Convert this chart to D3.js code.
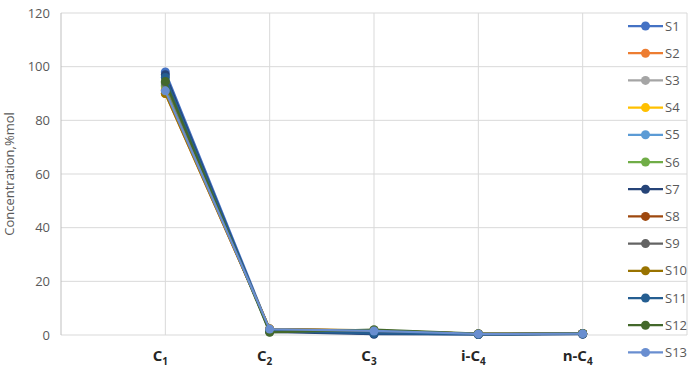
<!DOCTYPE html>
<html lang="en">
<head>
<meta charset="UTF-8">
<title>Concentration chart</title>
<script src="https://d3js.org/d3.v7.min.js"></script>
<style>
  body { margin: 0; background: #fff; }
  text { font-family: "Open Sans", "Noto Sans", sans-serif; }
</style>
</head>
<body>
<svg id="chart" width="692" height="376"></svg>
<script>
// components on the x axis (base + subscript)
const categories = [
  { base: "C", sub: "1" },
  { base: "C", sub: "2" },
  { base: "C", sub: "3" },
  { base: "i-C", sub: "4" },
  { base: "n-C", sub: "4" }
];
const seriesNames = ["S1","S2","S3","S4","S5","S6","S7","S8","S9","S10","S11","S12","S13"];
const seriesColors = ["#4472C4","#ED7D31","#A5A5A5","#FFC000","#5B9BD5","#70AD47",
                      "#264478","#9E480E","#636363","#997300","#255E91","#43682B","#698ED0"];
// concentration, %mol  [C1, C2, C3, i-C4, n-C4]
const values = [
  [98.0, 1.9, 0.5, 0.3, 0.4],
  [90.0, 2.2, 1.6, 0.4, 0.6],
  [92.5, 2.0, 1.5, 0.4, 0.5],
  [91.5, 2.1, 1.5, 0.4, 0.5],
  [93.5, 1.9, 1.4, 0.3, 0.5],
  [93.0, 1.8, 1.5, 0.3, 0.5],
  [97.0, 1.2, 0.3, 0.2, 0.3],
  [91.0, 2.1, 1.6, 0.4, 0.6],
  [94.0, 1.8, 1.3, 0.3, 0.5],
  [90.0, 2.3, 1.7, 0.4, 0.6],
  [96.0, 1.4, 0.6, 0.2, 0.4],
  [94.5, 1.0, 2.0, 0.5, 0.6],
  [91.0, 2.2, 1.5, 0.4, 0.5]
];
const yTicks = [0, 20, 40, 60, 80, 100, 120];

const svg = d3.select("#chart");
const plot = { left: 61, right: 687, top: 13, bottom: 335 };

const x = d3.scaleLinear().domain([0, categories.length + 1]).range([plot.left, plot.right]);
const y = d3.scaleLinear().domain([0, 120]).range([plot.bottom, plot.top]);

// horizontal gridlines
svg.append("g").selectAll("line").data(yTicks).join("line")
  .attr("x1", plot.left).attr("x2", plot.right)
  .attr("y1", d => y(d)).attr("y2", d => y(d))
  .attr("stroke", "#D9D9D9").attr("stroke-width", 1);

// vertical gridlines at categories and right edge
const vLines = d3.range(1, categories.length + 2);
svg.append("g").selectAll("line").data(vLines).join("line")
  .attr("x1", d => x(d)).attr("x2", d => x(d))
  .attr("y1", plot.top).attr("y2", plot.bottom)
  .attr("stroke", "#D9D9D9").attr("stroke-width", 1);

// y axis line
svg.append("line")
  .attr("x1", plot.left).attr("x2", plot.left)
  .attr("y1", plot.top).attr("y2", plot.bottom)
  .attr("stroke", "#BFBFBF");

// y tick labels
svg.append("g").selectAll("text").data(yTicks).join("text")
  .attr("x", plot.left - 11).attr("y", d => y(d)).attr("dy", "0.35em")
  .attr("text-anchor", "end").attr("font-size", 13).attr("fill", "#595959")
  .text(d => d);

// y axis title
svg.append("text")
  .attr("transform", `translate(14,${(plot.top + plot.bottom) / 2}) rotate(-90)`)
  .attr("text-anchor", "middle").attr("font-size", 13).attr("fill", "#595959")
  .text("Concentration,%mol");

// x category labels
const xl = svg.append("g").selectAll("text").data(categories).join("text")
  .attr("x", (d, i) => x(i + 1) - 5).attr("y", 361)
  .attr("text-anchor", "middle").attr("font-size", 15).attr("font-weight", "bold")
  .attr("fill", "#262626");
xl.append("tspan").text(d => d.base);
xl.append("tspan").attr("font-size", 10).attr("dy", 4).text(d => d.sub);

// lines and markers
const line = d3.line().x((d, i) => x(i + 1)).y(d => y(d));
const series = seriesNames.map((name, k) => ({ name, color: seriesColors[k], data: values[k] }));

const sg = svg.append("g").selectAll("g").data(series).join("g");
sg.append("path")
  .attr("d", d => line(d.data))
  .attr("fill", "none").attr("stroke", d => d.color).attr("stroke-width", 2.25);
sg.selectAll("circle").data(d => d.data.map(v => ({ v, color: d.color }))).join("circle")
  .attr("cx", (d, i) => x(i + 1)).attr("cy", d => y(d.v)).attr("r", 4.5)
  .attr("fill", d => d.color);

// legend
const leg = svg.append("g").selectAll("g").data(series).join("g")
  .attr("transform", (d, i) => `translate(628,${26 + i * 27.2})`);
leg.append("line").attr("x1", 0).attr("x2", 35)
  .attr("stroke", d => d.color).attr("stroke-width", 2.25);
leg.append("circle").attr("cx", 17.5).attr("r", 4.5).attr("fill", d => d.color);
leg.append("text").attr("x", 37).attr("dy", "0.35em")
  .attr("font-size", 13).attr("fill", "#595959").text(d => d.name);
</script>
</body>
</html>
